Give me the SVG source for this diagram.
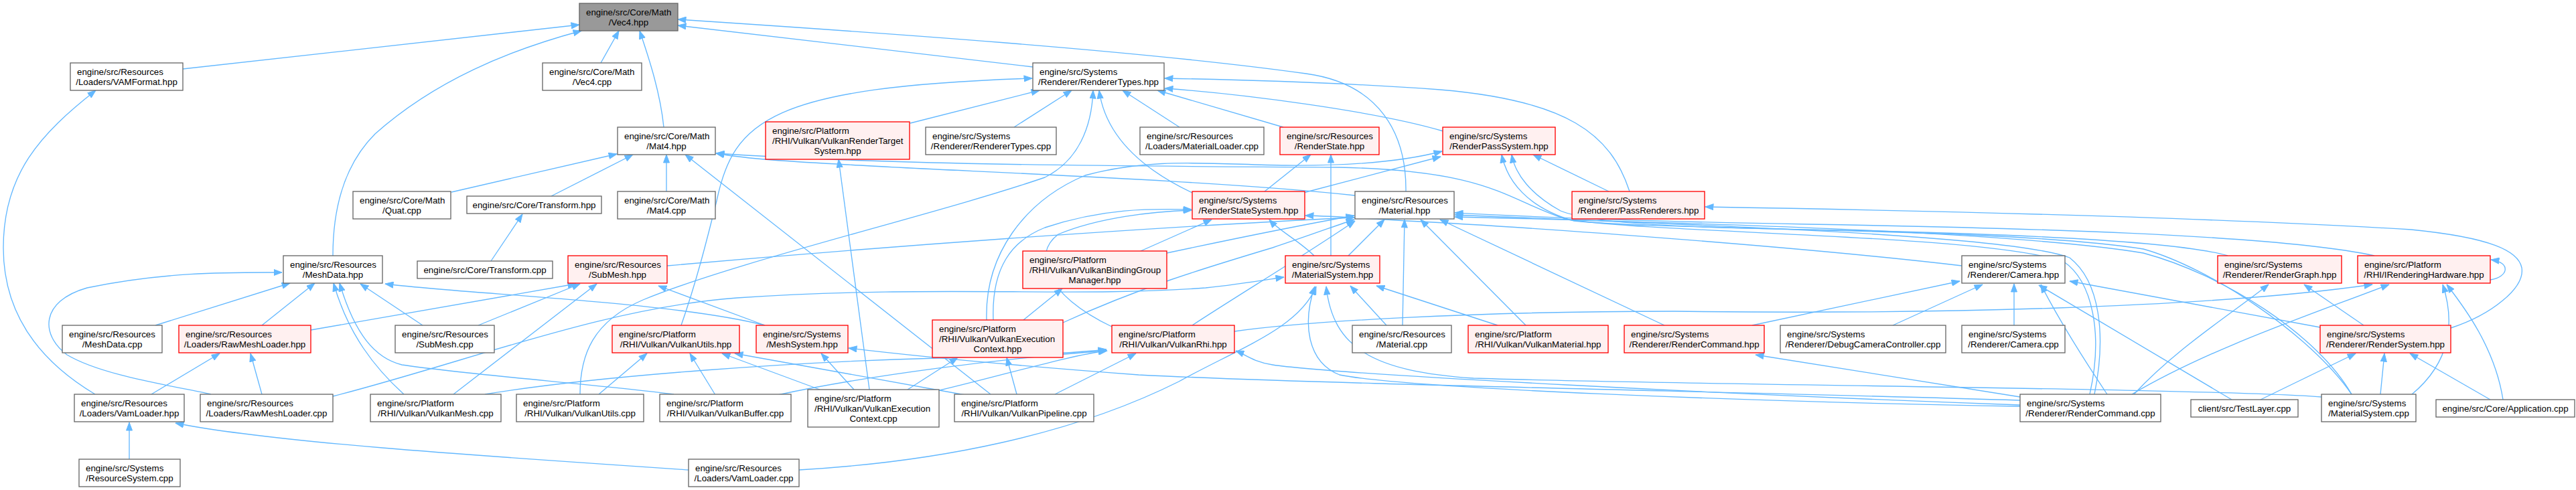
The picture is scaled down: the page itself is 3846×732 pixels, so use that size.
<svg xmlns="http://www.w3.org/2000/svg" width="3846" height="732" viewBox="0 0 3846 732">
<defs>
<marker id="a" markerUnits="userSpaceOnUse" markerWidth="13" markerHeight="10" viewBox="0 0 13 10" refX="12.5" refY="5" orient="auto">
<path d="M0.5,0.5 L12.5,5 L0.5,9.5 z" fill="#63b8ff" stroke="#63b8ff" stroke-width="1"/>
</marker>
<style>
.e path{fill:none;stroke:#63b8ff;stroke-width:1.33;marker-end:url(#a)}
.n{fill:#ffffff;stroke:#666666;stroke-width:1.33}
.r{fill:#fff0f0;stroke:#ff0000;stroke-width:1.33}
.root{fill:#999999;stroke:#666666;stroke-width:1.33}
text{font-family:"Liberation Sans",Arial,Helvetica,sans-serif;font-size:13.33px;fill:#000000}
.m{text-anchor:middle}
</style>
</defs>
<rect width="3846" height="732" fill="#ffffff"/>
<g id="edges" class="e">
<path d="M273,103 L865,37"/>
<path d="M497,382 C497,300 520,240 560,200 C650,120 760,75 868,46"/>
<path d="M897,94 L924,46"/>
<path d="M991,190 C986,140 970,90 955,46"/>
<path d="M1542,100 L1012,38"/>
<path d="M2099,286 C2100,200 2060,125 1950,110 C1700,75 1300,48 1012,29"/>
<path d="M142,589 C60,540 5,470 5,370 C5,260 60,200 143,135"/>
<path d="M1359,184 L1552,135"/>
<path d="M1514,190 L1600,135"/>
<path d="M1761,190 L1676,135"/>
<path d="M1916,190 L1728,135"/>
<path d="M2155,196 C2050,165 1850,140 1739,132"/>
<path d="M2433,286 C2405,200 2340,150 2150,134 C2000,123 1850,119 1739,117"/>
<path d="M1780,288 C1700,250 1650,200 1641,135"/>
<path d="M1017,486 C1040,420 1055,360 1070,300 C1095,180 1150,130 1541,117"/>
<path d="M866,589 C866,530 885,480 960,448 C1100,390 1400,320 1560,265 C1610,240 1630,190 1632,135"/>
<path d="M995,286 L995,231"/>
<path d="M674,287 L921,230"/>
<path d="M823,293 L945,231"/>
<path d="M1479,589 L1023,231"/>
<path d="M2023,292 C1800,268 1400,255 1250,245 C1150,240 1100,235 1069,229"/>
<path d="M3120,589 C3140,500 3125,420 3080,390 C2950,350 2500,350 2340,328 C2250,300 2230,255 2000,250 C1600,248 1300,245 1069,229"/>
<path d="M1888,286 L1957,231"/>
<path d="M1987,382 L1987,231"/>
<path d="M1473,478 C1470,380 1530,300 1620,262 C1720,235 1800,245 1920,247 C2030,248 2100,240 2153,226"/>
<path d="M1946,288 L2151,234"/>
<path d="M2402,286 L2289,231"/>
<path d="M3511,589 C3450,500 3300,400 3200,372 C3000,340 2500,345 2350,330 C2280,310 2250,270 2242,231"/>
<path d="M3326,382 C3250,360 3000,350 2800,345 C2500,340 2380,335 2330,315 C2285,290 2262,260 2257,231"/>
<path d="M1483,478 C1480,400 1510,360 1560,340 C1650,310 1720,312 1779,313"/>
<path d="M1660,488 C1560,440 1540,380 1580,350 C1640,325 1720,316 1779,314"/>
<path d="M1703,375 L1809,328"/>
<path d="M1962,382 C1940,360 1910,345 1895,328"/>
<path d="M2929,397 C2700,370 2300,340 2100,330 C2040,326 1990,323 1949,322"/>
<path d="M2013,382 L2067,328"/>
<path d="M2094,486 L2097,328"/>
<path d="M2278,486 L2121,328"/>
<path d="M2485,486 L2150,328"/>
<path d="M996,397 C1300,370 1700,340 2022,325"/>
<path d="M1742,378 C1850,355 1950,335 2022,322"/>
<path d="M1587,482 C1700,430 1800,400 1900,370 C1960,350 2000,335 2022,328"/>
<path d="M1780,486 C1850,440 1950,380 2023,330"/>
<path d="M3545,382 C3400,350 3000,340 2700,335 C2400,330 2250,322 2172,318"/>
<path d="M3127,589 C3145,500 3135,420 3090,385 C3000,350 2500,335 2172,321"/>
<path d="M3511,589 C3460,500 3320,410 3200,378 C3000,345 2500,332 2172,324"/>
<path d="M2070,486 L2016,427"/>
<path d="M2236,486 L2055,427"/>
<path d="M497,592 C700,540 900,460 1100,445 C1400,425 1600,445 1800,430 C1850,425 1890,418 1917,414"/>
<path d="M1193,702 C1400,690 1600,650 1760,570 C1850,520 1940,490 1965,428"/>
<path d="M3016,607 C2600,600 2100,580 2000,560 C1950,540 1945,480 1963,428"/>
<path d="M3466,593 C3300,580 2500,575 2200,565 C2050,555 1990,520 1980,428"/>
<path d="M1528,478 L1586,431"/>
<path d="M1298,582 L1252,238"/>
<path d="M1355,582 L1430,534"/>
<path d="M1518,589 L1503,534"/>
<path d="M1403,583 C1500,560 1600,530 1653,524"/>
<path d="M1575,589 L1696,528"/>
<path d="M1161,590 C1300,560 1500,535 1652,524"/>
<path d="M724,589 C900,560 1200,540 1400,535 C1500,532 1600,528 1652,522"/>
<path d="M3016,605 C2600,590 2000,560 1900,545 C1870,540 1860,530 1845,524"/>
<path d="M1275,582 L1226,528"/>
<path d="M3016,598 C2600,585 2000,575 1700,560 C1500,545 1350,530 1267,520"/>
<path d="M3016,593 L2621,530"/>
<path d="M894,589 L966,528"/>
<path d="M1068,590 L1030,528"/>
<path d="M1224,582 L1078,528"/>
<path d="M1441,590 L1097,528"/>
<path d="M464,493 L860,424"/>
<path d="M714,486 L866,424"/>
<path d="M677,589 L891,424"/>
<path d="M1142,486 L983,427"/>
<path d="M232,486 L433,423"/>
<path d="M391,486 L470,423"/>
<path d="M315,589 C250,575 150,560 100,530 C60,500 60,450 130,430 C250,405 350,407 421,407"/>
<path d="M603,589 C560,550 520,500 498,423"/>
<path d="M1006,589 C900,575 700,560 600,545 C560,535 530,500 507,423"/>
<path d="M631,486 L538,424"/>
<path d="M1142,486 C1000,450 700,440 575,424"/>
<path d="M226,589 L328,528"/>
<path d="M391,589 L374,528"/>
<path d="M193,686 L193,631"/>
<path d="M1028,702 C700,680 400,660 262,632"/>
<path d="M733,390 L780,320"/>
<path d="M3007,486 L3007,424"/>
<path d="M3464,489 L3090,420"/>
<path d="M3146,589 C3100,520 3070,470 3047,425"/>
<path d="M3332,597 L3044,426"/>
<path d="M2616,486 L2926,420"/>
<path d="M2826,486 L2960,425"/>
<path d="M3186,589 C3250,520 3330,470 3387,425"/>
<path d="M3529,486 L3440,425"/>
<path d="M3183,589 C3300,520 3450,470 3567,425"/>
<path d="M1843,495 C1950,480 2200,465 2500,465 C2880,470 3300,460 3542,425"/>
<path d="M3601,589 C3660,540 3665,480 3647,425"/>
<path d="M3737,597 C3725,520 3680,460 3653,425"/>
<path d="M3718,418 C3745,414 3750,392 3719,388"/>
<path d="M3375,597 L3517,528"/>
<path d="M3554,589 L3560,528"/>
<path d="M3718,597 L3598,528"/>
<path d="M3659,490 C3720,470 3770,430 3765,400 C3760,375 3720,355 3600,343 C3300,325 2900,315 2546,309"/>
</g>
<g id="n0"><rect class="root" x="865" y="5" width="147" height="41"/><text x="875" y="23">engine/src/Core/Math</text><text class="m" x="938.5" y="37.8">/Vec4.hpp</text></g>
<g id="n1"><rect class="n" x="105" y="94" width="168" height="41"/><text x="115" y="112">engine/src/Resources</text><text class="m" x="189" y="126.8">/Loaders/VAMFormat.hpp</text></g>
<g id="n2"><rect class="n" x="810" y="94" width="148" height="41"/><text x="820" y="112">engine/src/Core/Math</text><text class="m" x="884" y="126.8">/Vec4.cpp</text></g>
<g id="n3"><rect class="n" x="1542" y="94" width="196" height="41"/><text x="1552" y="112">engine/src/Systems</text><text class="m" x="1640" y="126.8">/Renderer/RendererTypes.hpp</text></g>
<g id="n4"><rect class="n" x="922" y="190" width="146" height="41"/><text x="932" y="208">engine/src/Core/Math</text><text class="m" x="995" y="222.8">/Mat4.hpp</text></g>
<g id="n5"><rect class="r" x="1143" y="182" width="215" height="56"/><text x="1153" y="200">engine/src/Platform</text><text x="1153" y="214.8">/RHI/Vulkan/VulkanRenderTarget</text><text class="m" x="1250.5" y="229.6">System.hpp</text></g>
<g id="n6"><rect class="n" x="1382" y="190" width="195" height="41"/><text x="1392" y="208">engine/src/Systems</text><text class="m" x="1479.5" y="222.8">/Renderer/RendererTypes.cpp</text></g>
<g id="n7"><rect class="n" x="1702" y="190" width="185" height="41"/><text x="1712" y="208">engine/src/Resources</text><text class="m" x="1794.5" y="222.8">/Loaders/MaterialLoader.cpp</text></g>
<g id="n8"><rect class="r" x="1911" y="190" width="148" height="41"/><text x="1921" y="208">engine/src/Resources</text><text class="m" x="1985" y="222.8">/RenderState.hpp</text></g>
<g id="n9"><rect class="r" x="2154" y="190" width="168" height="41"/><text x="2164" y="208">engine/src/Systems</text><text class="m" x="2238" y="222.8">/RenderPassSystem.hpp</text></g>
<g id="n10"><rect class="n" x="527" y="286" width="146" height="41"/><text x="537" y="304">engine/src/Core/Math</text><text class="m" x="600" y="318.8">/Quat.cpp</text></g>
<g id="n11"><rect class="n" x="697" y="293" width="201" height="26"/><text class="m" x="797.5" y="311">engine/src/Core/Transform.hpp</text></g>
<g id="n12"><rect class="n" x="922" y="286" width="146" height="41"/><text x="932" y="304">engine/src/Core/Math</text><text class="m" x="995" y="318.8">/Mat4.cpp</text></g>
<g id="n13"><rect class="r" x="1780" y="286" width="168" height="41"/><text x="1790" y="304">engine/src/Systems</text><text class="m" x="1864" y="318.8">/RenderStateSystem.hpp</text></g>
<g id="n14"><rect class="n" x="2023" y="286" width="148" height="41"/><text x="2033" y="304">engine/src/Resources</text><text class="m" x="2097" y="318.8">/Material.hpp</text></g>
<g id="n15"><rect class="r" x="2347" y="286" width="198" height="41"/><text x="2357" y="304">engine/src/Systems</text><text class="m" x="2446" y="318.8">/Renderer/PassRenderers.hpp</text></g>
<g id="n16"><rect class="n" x="423" y="382" width="148" height="41"/><text x="433" y="400">engine/src/Resources</text><text class="m" x="497" y="414.8">/MeshData.hpp</text></g>
<g id="n17"><rect class="n" x="623" y="390" width="202" height="26"/><text class="m" x="724" y="408">engine/src/Core/Transform.cpp</text></g>
<g id="n18"><rect class="r" x="848" y="382" width="148" height="41"/><text x="858" y="400">engine/src/Resources</text><text class="m" x="922" y="414.8">/SubMesh.hpp</text></g>
<g id="n19"><rect class="r" x="1527" y="375" width="215" height="56"/><text x="1537" y="393">engine/src/Platform</text><text x="1537" y="407.8">/RHI/Vulkan/VulkanBindingGroup</text><text class="m" x="1634.5" y="422.6">Manager.hpp</text></g>
<g id="n20"><rect class="r" x="1919" y="382" width="141" height="41"/><text x="1929" y="400">engine/src/Systems</text><text class="m" x="1989.5" y="414.8">/MaterialSystem.hpp</text></g>
<g id="n21"><rect class="n" x="2929" y="382" width="154" height="41"/><text x="2939" y="400">engine/src/Systems</text><text class="m" x="3006" y="414.8">/Renderer/Camera.hpp</text></g>
<g id="n22"><rect class="r" x="3311" y="382" width="185" height="41"/><text x="3321" y="400">engine/src/Systems</text><text class="m" x="3403.5" y="414.8">/Renderer/RenderGraph.hpp</text></g>
<g id="n23"><rect class="r" x="3520" y="382" width="198" height="41"/><text x="3530" y="400">engine/src/Platform</text><text class="m" x="3619" y="414.8">/RHI/IRenderingHardware.hpp</text></g>
<g id="n24"><rect class="n" x="93" y="486" width="149" height="41"/><text x="103" y="504">engine/src/Resources</text><text class="m" x="167.5" y="518.8">/MeshData.cpp</text></g>
<g id="n25"><rect class="r" x="267" y="486" width="197" height="41"/><text x="277" y="504">engine/src/Resources</text><text class="m" x="365.5" y="518.8">/Loaders/RawMeshLoader.hpp</text></g>
<g id="n26"><rect class="n" x="590" y="486" width="148" height="41"/><text x="600" y="504">engine/src/Resources</text><text class="m" x="664" y="518.8">/SubMesh.cpp</text></g>
<g id="n27"><rect class="r" x="914" y="486" width="190" height="41"/><text x="924" y="504">engine/src/Platform</text><text class="m" x="1009" y="518.8">/RHI/Vulkan/VulkanUtils.hpp</text></g>
<g id="n28"><rect class="r" x="1129" y="486" width="137" height="41"/><text x="1139" y="504">engine/src/Systems</text><text class="m" x="1197.5" y="518.8">/MeshSystem.hpp</text></g>
<g id="n29"><rect class="r" x="1392" y="478" width="195" height="56"/><text x="1402" y="496">engine/src/Platform</text><text x="1402" y="510.8">/RHI/Vulkan/VulkanExecution</text><text class="m" x="1489.5" y="525.6">Context.hpp</text></g>
<g id="n30"><rect class="r" x="1660" y="486" width="183" height="41"/><text x="1670" y="504">engine/src/Platform</text><text class="m" x="1751.5" y="518.8">/RHI/Vulkan/VulkanRhi.hpp</text></g>
<g id="n31"><rect class="n" x="2019" y="486" width="148" height="41"/><text x="2029" y="504">engine/src/Resources</text><text class="m" x="2093" y="518.8">/Material.cpp</text></g>
<g id="n32"><rect class="r" x="2192" y="486" width="209" height="41"/><text x="2202" y="504">engine/src/Platform</text><text class="m" x="2296.5" y="518.8">/RHI/Vulkan/VulkanMaterial.hpp</text></g>
<g id="n33"><rect class="r" x="2425" y="486" width="209" height="41"/><text x="2435" y="504">engine/src/Systems</text><text class="m" x="2529.5" y="518.8">/Renderer/RenderCommand.hpp</text></g>
<g id="n34"><rect class="n" x="2658" y="486" width="247" height="41"/><text x="2668" y="504">engine/src/Systems</text><text class="m" x="2781.5" y="518.8">/Renderer/DebugCameraController.cpp</text></g>
<g id="n35"><rect class="n" x="2929" y="486" width="154" height="41"/><text x="2939" y="504">engine/src/Systems</text><text class="m" x="3006" y="518.8">/Renderer/Camera.cpp</text></g>
<g id="n36"><rect class="r" x="3464" y="486" width="195" height="41"/><text x="3474" y="504">engine/src/Systems</text><text class="m" x="3561.5" y="518.8">/Renderer/RenderSystem.hpp</text></g>
<g id="n37"><rect class="n" x="111" y="589" width="164" height="41"/><text x="121" y="607">engine/src/Resources</text><text class="m" x="193" y="621.8">/Loaders/VamLoader.hpp</text></g>
<g id="n38"><rect class="n" x="299" y="589" width="198" height="41"/><text x="309" y="607">engine/src/Resources</text><text class="m" x="398" y="621.8">/Loaders/RawMeshLoader.cpp</text></g>
<g id="n39"><rect class="n" x="553" y="589" width="195" height="41"/><text x="563" y="607">engine/src/Platform</text><text class="m" x="650.5" y="621.8">/RHI/Vulkan/VulkanMesh.cpp</text></g>
<g id="n40"><rect class="n" x="771" y="589" width="190" height="41"/><text x="781" y="607">engine/src/Platform</text><text class="m" x="866" y="621.8">/RHI/Vulkan/VulkanUtils.cpp</text></g>
<g id="n41"><rect class="n" x="985" y="589" width="196" height="41"/><text x="995" y="607">engine/src/Platform</text><text class="m" x="1083" y="621.8">/RHI/Vulkan/VulkanBuffer.cpp</text></g>
<g id="n42"><rect class="n" x="1206" y="582" width="196" height="56"/><text x="1216" y="600">engine/src/Platform</text><text x="1216" y="614.8">/RHI/Vulkan/VulkanExecution</text><text class="m" x="1304" y="629.6">Context.cpp</text></g>
<g id="n43"><rect class="n" x="1425" y="589" width="208" height="41"/><text x="1435" y="607">engine/src/Platform</text><text class="m" x="1529" y="621.8">/RHI/Vulkan/VulkanPipeline.cpp</text></g>
<g id="n44"><rect class="n" x="3016" y="589" width="210" height="41"/><text x="3026" y="607">engine/src/Systems</text><text class="m" x="3121" y="621.8">/Renderer/RenderCommand.cpp</text></g>
<g id="n45"><rect class="n" x="3271" y="597" width="160" height="26"/><text class="m" x="3351" y="615">client/src/TestLayer.cpp</text></g>
<g id="n46"><rect class="n" x="3466" y="589" width="141" height="41"/><text x="3476" y="607">engine/src/Systems</text><text class="m" x="3536.5" y="621.8">/MaterialSystem.cpp</text></g>
<g id="n47"><rect class="n" x="3637" y="597" width="207" height="26"/><text class="m" x="3740.5" y="615">engine/src/Core/Application.cpp</text></g>
<g id="n48"><rect class="n" x="118" y="686" width="151" height="41"/><text x="128" y="704">engine/src/Systems</text><text class="m" x="193.5" y="718.8">/ResourceSystem.cpp</text></g>
<g id="n49"><rect class="n" x="1028" y="686" width="165" height="41"/><text x="1038" y="704">engine/src/Resources</text><text class="m" x="1110.5" y="718.8">/Loaders/VamLoader.cpp</text></g>
</svg>
